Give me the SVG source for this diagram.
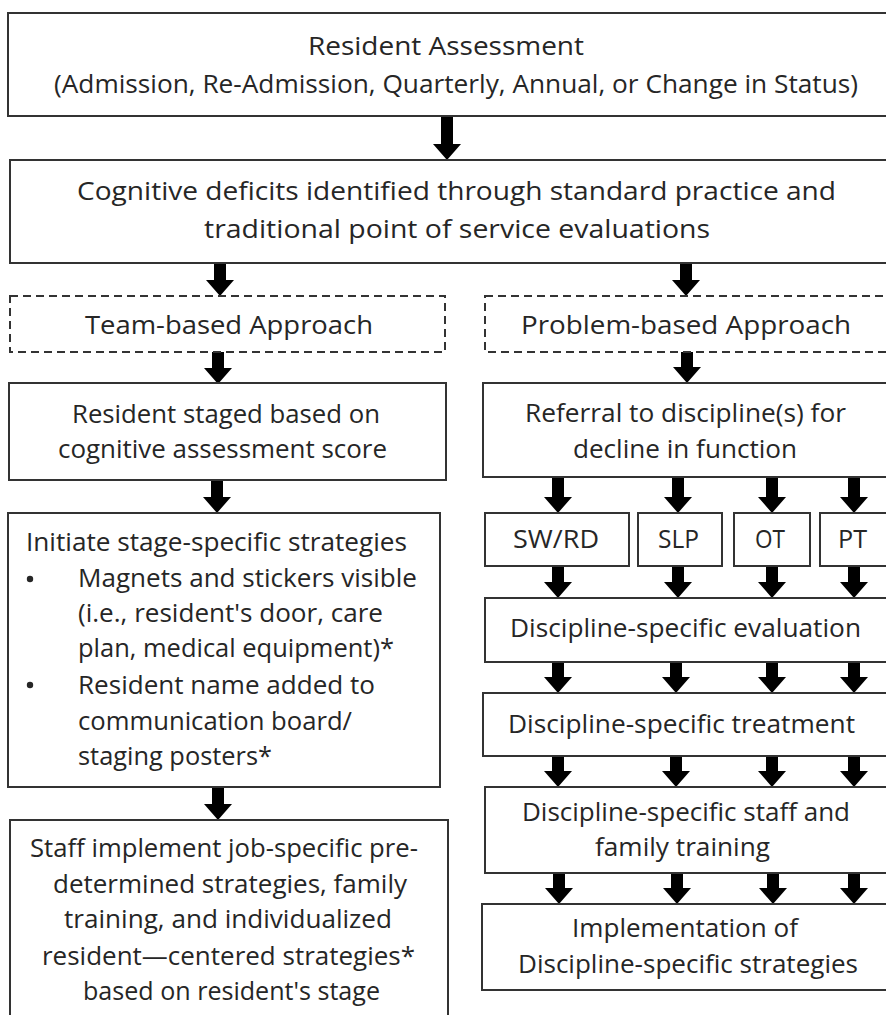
<svg xmlns="http://www.w3.org/2000/svg" width="886" height="1015" viewBox="0 0 886 1015">
<style>
  .box{fill:#fff;stroke:#333;stroke-width:2}
  .dash{fill:#fff;stroke:#333;stroke-width:2;stroke-dasharray:8 5}
  .t{font-family:"Open Sans","Liberation Sans",sans-serif;font-size:25px;fill:#262626}
  .c{stroke:#000;stroke-width:12;fill:none;marker-end:url(#head)}
</style>
<defs>
  <marker id="head" markerUnits="userSpaceOnUse" viewBox="-2 -15 18 30" refX="0" refY="0" markerWidth="18" markerHeight="30" orient="auto" overflow="visible">
    <path d="M-1,-14 L15,0 L-1,14 z" fill="#000"/>
  </marker>
</defs>
<rect width="886" height="1015" fill="#fff"/>

<g id="connectors">
  <line class="c" x1="447" y1="116" x2="447" y2="145"/>
  <line class="c" x1="220" y1="263" x2="220" y2="281"/>
  <line class="c" x1="686" y1="263" x2="686" y2="281"/>
  <line class="c" x1="218" y1="352" x2="218" y2="369"/>
  <line class="c" x1="687" y1="352" x2="687" y2="368"/>
  <line class="c" x1="217" y1="480" x2="217" y2="498"/>
  <line class="c" x1="558" y1="477" x2="558" y2="498"/>
  <line class="c" x1="678" y1="477" x2="678" y2="498"/>
  <line class="c" x1="772" y1="477" x2="772" y2="498"/>
  <line class="c" x1="854" y1="477" x2="854" y2="498"/>
  <line class="c" x1="558" y1="566" x2="558" y2="583"/>
  <line class="c" x1="678" y1="566" x2="678" y2="583"/>
  <line class="c" x1="772" y1="566" x2="772" y2="583"/>
  <line class="c" x1="854" y1="566" x2="854" y2="583"/>
  <line class="c" x1="558" y1="662" x2="558" y2="678"/>
  <line class="c" x1="676" y1="662" x2="676" y2="678"/>
  <line class="c" x1="772" y1="662" x2="772" y2="678"/>
  <line class="c" x1="854" y1="662" x2="854" y2="678"/>
  <line class="c" x1="558" y1="756" x2="558" y2="772"/>
  <line class="c" x1="676" y1="756" x2="676" y2="772"/>
  <line class="c" x1="772" y1="756" x2="772" y2="772"/>
  <line class="c" x1="854" y1="756" x2="854" y2="772"/>
  <line class="c" x1="559" y1="873" x2="559" y2="889"/>
  <line class="c" x1="677" y1="873" x2="677" y2="889"/>
  <line class="c" x1="773" y1="873" x2="773" y2="889"/>
  <line class="c" x1="854" y1="873" x2="854" y2="889"/>
  <line class="c" x1="218" y1="787" x2="218" y2="805"/>
</g>

<g id="resident-assessment">
  <rect class="box" x="8" y="13" width="890" height="103"/>
  <text class="t" x="308" y="55" textLength="276" lengthAdjust="spacingAndGlyphs">Resident Assessment</text>
  <text class="t" x="54" y="93" textLength="804" lengthAdjust="spacingAndGlyphs">(Admission, Re-Admission, Quarterly, Annual, or Change in Status)</text>
</g>

<g id="cognitive-deficits">
  <rect class="box" x="10" y="160" width="888" height="103"/>
  <text class="t" x="77" y="200" textLength="759" lengthAdjust="spacingAndGlyphs">Cognitive deficits identified through standard practice and</text>
  <text class="t" x="204" y="238" textLength="506" lengthAdjust="spacingAndGlyphs">traditional point of service evaluations</text>
</g>

<g id="team-based">
  <rect class="dash" x="10" y="296" width="435" height="56"/>
  <text class="t" x="85" y="334" textLength="288" lengthAdjust="spacingAndGlyphs">Team-based Approach</text>
</g>

<g id="problem-based">
  <rect class="dash" x="485" y="296" width="413" height="56"/>
  <text class="t" x="521" y="334" textLength="330" lengthAdjust="spacingAndGlyphs">Problem-based Approach</text>
</g>

<g id="resident-staged">
  <rect class="box" x="9" y="383" width="437" height="97"/>
  <text class="t" x="72" y="423" textLength="308" lengthAdjust="spacingAndGlyphs">Resident staged based on</text>
  <text class="t" x="58" y="458" textLength="329" lengthAdjust="spacingAndGlyphs">cognitive assessment score</text>
</g>

<g id="referral">
  <rect class="box" x="483" y="383" width="415" height="94"/>
  <text class="t" x="525" y="422" textLength="321" lengthAdjust="spacingAndGlyphs">Referral to discipline(s) for</text>
  <text class="t" x="573" y="458" textLength="224" lengthAdjust="spacingAndGlyphs">decline in function</text>
</g>

<g id="initiate-strategies">
  <rect class="box" x="8" y="513" width="432" height="274"/>
  <text class="t" x="26" y="551" textLength="381" lengthAdjust="spacingAndGlyphs">Initiate stage-specific strategies</text>
  <circle cx="30" cy="579" r="3.2" fill="#262626"/>
  <text class="t" x="78" y="587" textLength="339" lengthAdjust="spacingAndGlyphs">Magnets and stickers visible</text>
  <text class="t" x="78" y="622" textLength="305" lengthAdjust="spacingAndGlyphs">(i.e., resident's door, care</text>
  <text class="t" x="78" y="657" textLength="316" lengthAdjust="spacingAndGlyphs">plan, medical equipment)*</text>
  <circle cx="30" cy="685" r="3.2" fill="#262626"/>
  <text class="t" x="78" y="694" textLength="297" lengthAdjust="spacingAndGlyphs">Resident name added to</text>
  <text class="t" x="78" y="730" textLength="274" lengthAdjust="spacingAndGlyphs">communication board/</text>
  <text class="t" x="78" y="765" textLength="194" lengthAdjust="spacingAndGlyphs">staging posters*</text>
</g>

<g id="sw-rd">
  <rect class="box" x="485" y="513" width="144" height="53"/>
  <text class="t" x="513" y="548" textLength="86" lengthAdjust="spacingAndGlyphs">SW/RD</text>
</g>
<g id="slp">
  <rect class="box" x="638" y="513" width="84" height="53"/>
  <text class="t" x="658" y="548" textLength="41" lengthAdjust="spacingAndGlyphs">SLP</text>
</g>
<g id="ot">
  <rect class="box" x="734" y="513" width="76" height="53"/>
  <text class="t" x="755" y="548" textLength="30" lengthAdjust="spacingAndGlyphs">OT</text>
</g>
<g id="pt">
  <rect class="box" x="820" y="513" width="78" height="53"/>
  <text class="t" x="838" y="548" textLength="29" lengthAdjust="spacingAndGlyphs">PT</text>
</g>

<g id="evaluation">
  <rect class="box" x="485" y="598" width="413" height="64"/>
  <text class="t" x="510" y="637" textLength="351" lengthAdjust="spacingAndGlyphs">Discipline-specific evaluation</text>
</g>

<g id="treatment">
  <rect class="box" x="483" y="693" width="415" height="63"/>
  <text class="t" x="508" y="733" textLength="347" lengthAdjust="spacingAndGlyphs">Discipline-specific treatment</text>
</g>

<g id="staff-family-training">
  <rect class="box" x="485" y="787" width="413" height="86"/>
  <text class="t" x="522" y="821" textLength="328" lengthAdjust="spacingAndGlyphs">Discipline-specific staff and</text>
  <text class="t" x="595" y="856" textLength="175" lengthAdjust="spacingAndGlyphs">family training</text>
</g>

<g id="implementation">
  <rect class="box" x="482" y="904" width="416" height="86"/>
  <text class="t" x="572" y="937" textLength="226" lengthAdjust="spacingAndGlyphs">Implementation of</text>
  <text class="t" x="518" y="973" textLength="340" lengthAdjust="spacingAndGlyphs">Discipline-specific strategies</text>
</g>

<g id="staff-implement">
  <rect class="box" x="10" y="820" width="438" height="210"/>
  <text class="t" x="30" y="857" textLength="388" lengthAdjust="spacingAndGlyphs">Staff implement job-specific pre-</text>
  <text class="t" x="53" y="893" textLength="354" lengthAdjust="spacingAndGlyphs">determined strategies, family</text>
  <text class="t" x="64" y="928" textLength="328" lengthAdjust="spacingAndGlyphs">training, and individualized</text>
  <text class="t" x="42" y="965" textLength="373" lengthAdjust="spacingAndGlyphs">resident—centered strategies*</text>
  <text class="t" x="83" y="1000" textLength="297" lengthAdjust="spacingAndGlyphs">based on resident's stage</text>
</g>
</svg>
